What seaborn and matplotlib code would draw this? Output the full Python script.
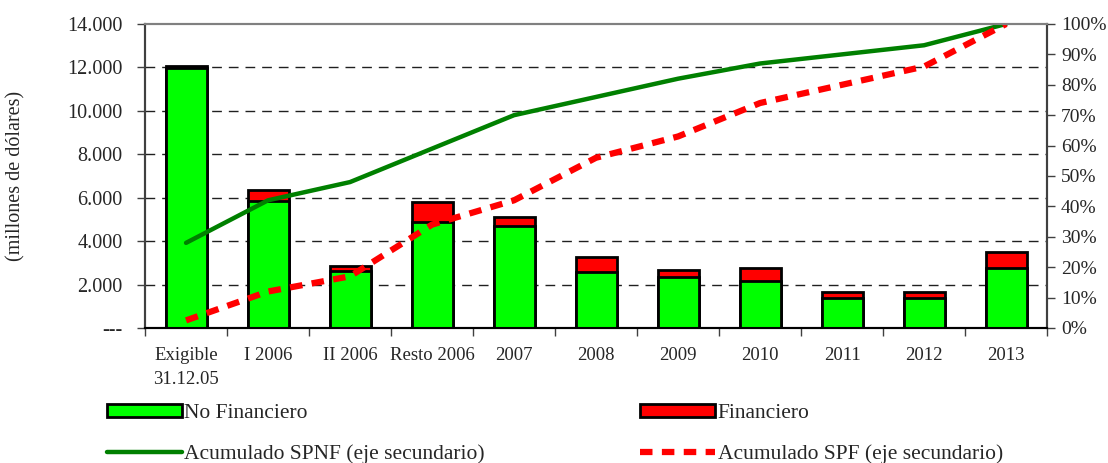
import numpy as np
import pandas as pd
import matplotlib
matplotlib.use("Agg")
import matplotlib.pyplot as plt
import matplotlib.ticker as mtick
from matplotlib.patches import Patch
from matplotlib.lines import Line2D
import seaborn as sns

# Data (millones de dólares)
periods = ["Exigible\n31.12.05", "I 2006", "II 2006", "Resto 2006", "2007", "2008",
           "2009", "2010", "2011", "2012", "2013"]
no_financiero = [11950, 5850, 2620, 4880, 4710, 2560, 2350, 2180, 1370, 1370, 2780]
financiero = [100, 500, 230, 900, 400, 710, 320, 580, 290, 300, 700]
acum_spnf = [0.28, 0.42, 0.48, 0.59, 0.70, 0.76, 0.82, 0.87, 0.90, 0.93, 1.00]
acum_spf = [0.025, 0.12, 0.17, 0.34, 0.42, 0.56, 0.63, 0.74, 0.80, 0.86, 1.00]

df = pd.DataFrame({"periodo": periods, "nf": no_financiero, "f": financiero})
df["total"] = df["nf"] + df["f"]

sns.set_style("ticks")
plt.rcParams["font.family"] = ["Liberation Serif", "DejaVu Serif"]
plt.rcParams["font.size"] = 14

fig = plt.figure(figsize=(11.08, 4.63), dpi=100)
ax = fig.add_axes([0.1309, 0.2916, 0.8141, 0.6566])

# dashed horizontal grid behind the bars
yticks = np.arange(0, 14001, 2000)
for y in yticks[1:-1]:
    ax.axhline(y, color="#202020", lw=1.0, linestyle=(0, (7, 5)), zorder=0)

# stacked bars: total (red) then the green part over it
sns.barplot(data=df, x="periodo", y="total", color="#FF0000", saturation=1,
            width=0.5, edgecolor="black", linewidth=2, ax=ax, zorder=2)
sns.barplot(data=df, x="periodo", y="nf", color="#00FF00", saturation=1,
            width=0.5, edgecolor="black", linewidth=2, ax=ax, zorder=3)

ax.set_xlim(-0.5, len(periods) - 0.5)
ax.set_ylim(0, 14000)
ax.set_yticks(yticks)
ax.yaxis.set_major_formatter(mtick.FuncFormatter(
    lambda v, _: "---" if v == 0 else f"{v:,.0f}".replace(",", ".")))
ax.set_xlabel("")
ax.set_ylabel("(millones de dólares)", labelpad=30, fontsize=14.5)
ax.tick_params(axis="x", which="major", length=0, pad=14, labelsize=13.5)
ax.set_xticks(np.arange(-0.5, len(periods)), minor=True)
ax.tick_params(axis="x", which="minor", length=6, width=1, color="#404040", direction="out")
ax.tick_params(axis="y", length=6, width=1, color="#404040", direction="out", pad=10, labelsize=14.5)
for lbl in ax.get_xticklabels():
    lbl.set_linespacing(1.5)

# cumulative lines on secondary axis
ax2 = ax.twinx()
x = np.arange(len(periods))
sns.lineplot(x=x, y=acum_spnf, color="#008000", lw=3.2, ax=ax2)
sns.lineplot(x=x, y=acum_spf, color="#FF0000", lw=4.5, linestyle=(0, (2, 1.5)), ax=ax2)
ax2.set_ylim(0, 1.0)
ax2.set_yticks(np.arange(0, 1.01, 0.1))
ax2.yaxis.set_major_formatter(mtick.PercentFormatter(1.0, decimals=0))
ax2.tick_params(axis="y", length=6, width=1, color="#404040", direction="out", pad=4, labelsize=14)
ax2.set_xlim(-0.5, len(periods) - 0.5)

for a in (ax, ax2):
    a.spines["top"].set_color("#808080")
    a.spines["top"].set_linewidth(1.5)
    a.spines["left"].set_color("#404040")
    a.spines["right"].set_color("#404040")
    a.spines["bottom"].set_color("black")
    for s in ("left", "right", "bottom"):
        a.spines[s].set_linewidth(1.5)
    a.set_facecolor("none")

# legend below
handles = [
    Patch(facecolor="#00FF00", edgecolor="black", linewidth=2, label="No Financiero"),
    Line2D([], [], color="#008000", lw=3.2, label="Acumulado SPNF (eje secundario)"),
    Patch(facecolor="#FF0000", edgecolor="black", linewidth=2, label="Financiero"),
    Line2D([], [], color="#FF0000", lw=4.5, linestyle=(0, (2, 1.5)),
           label="Acumulado SPF (eje secundario)"),
]
fig.legend(handles=handles, ncol=2, loc="lower left", bbox_to_anchor=(0.079, -0.045),
           frameon=False, fontsize=15.5, handlelength=3.5, handleheight=0.6,
           handletextpad=0.1, labelspacing=1.0, columnspacing=7.2)

fig.savefig("out.png", dpi=100)
